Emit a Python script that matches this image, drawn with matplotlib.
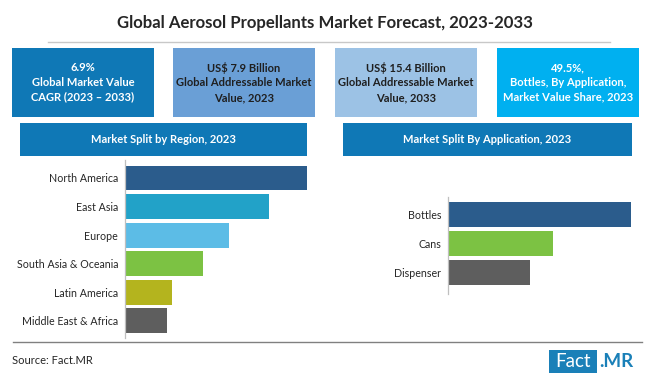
import matplotlib
matplotlib.use("Agg")
import matplotlib.pyplot as plt
from matplotlib.patches import Rectangle
from matplotlib.lines import Line2D

# ---- data ----
title = "Global Aerosol Propellants Market Forecast, 2023-2033"
kpi_texts = [
    "6.9%\nGlobal Market Value\nCAGR (2023 – 2033)",
    "US$ 7.9 Billion\nGlobal Addressable Market\nValue, 2023",
    "US$ 15.4 Billion\nGlobal Addressable Market\nValue, 2033",
    "49.5%,\nBottles, By Application,\nMarket Value Share, 2023",
]
region_labels = ["North America", "East Asia", "Europe", "South Asia & Oceania",
                 "Latin America", "Middle East & Africa"]
region_values = [30.5, 24.1, 17.4, 13.1, 7.9, 7.0]
app_labels = ["Bottles", "Cans", "Dispenser"]
app_values = [49.5, 28.4, 22.1]

# ---- styles ----
kpi_colors = ["#0f78b6", "#6a9fd6", "#9cc2e5", "#00b0f0"]
kpi_text_colors = ["white", "#1f1f1f", "#1f1f1f", "white"]
region_colors = ["#2b5c8c", "#22a2c8", "#5cbce6", "#7cc243", "#b4b41e", "#5e5e5e"]
app_colors = ["#2b5c8c", "#7cc243", "#5e5e5e"]
header_color = "#0f78b6"
FONT = "Lato"

W, H = 650, 377
fig = plt.figure(figsize=(W / 100, H / 100), dpi=100)
fig.patch.set_facecolor("white")


def fx(x):
    return x / W


def fy(y):
    return 1 - y / H


def rect(x0, y0, x1, y1, color):
    fig.add_artist(Rectangle((fx(x0), fy(y1)), fx(x1) - fx(x0), fy(y0) - fy(y1),
                             transform=fig.transFigure, facecolor=color,
                             edgecolor="none"))


def hline(x0, x1, y, color, lw=1.0):
    fig.add_artist(Line2D([fx(x0), fx(x1)], [fy(y), fy(y)], transform=fig.transFigure,
                          color=color, lw=lw))


# title
fig.text(fx(325), fy(23), title, ha="center", va="center", fontsize=12.1,
         fontweight="bold", family=FONT, color="#262626")
hline(48, 610, 42, "#c8c8c8", 1.0)

# KPI boxes
box_x = [12, 173, 335, 497]
for x0, t, c, tc in zip(box_x, kpi_texts, kpi_colors, kpi_text_colors):
    rect(x0, 48, x0 + 142, 117, c)
    fig.text(fx(x0 + 71), fy(82.5), t, ha="center", va="center", fontsize=8.0,
             fontweight="bold", family=FONT, color=tc, linespacing=1.4)

# section headers
rect(20, 123, 307, 156, header_color)
fig.text(fx(163), fy(139.5), "Market Split by Region, 2023", ha="center", va="center",
         fontsize=8.0, fontweight="bold", family=FONT, color="white")
rect(343, 123, 632, 156, header_color)
fig.text(fx(487), fy(139.5), "Market Split By Application, 2023", ha="center",
         va="center", fontsize=8.0, fontweight="bold", family=FONT, color="white")


def bar_axes(x0, x1, y0, y1, labels, values, colors, ylim):
    ax = fig.add_axes([fx(x0), fy(y1), fx(x1) - fx(x0), fy(y0) - fy(y1)])
    pos = list(range(len(labels)))
    ax.barh(pos, values, color=colors, height=0.87)
    ax.set_xlim(0, max(values))
    ax.set_ylim(*ylim)
    ax.set_yticks(pos)
    ax.set_yticklabels(labels, family=FONT, fontsize=7.7, color="#262626")
    ax.tick_params(axis="y", length=0, pad=5)
    ax.set_xticks([])
    for s in ["top", "right", "bottom"]:
        ax.spines[s].set_visible(False)
    ax.spines["left"].set_color("#bfbfbf")
    ax.spines["left"].set_linewidth(0.9)
    ax.patch.set_alpha(0)
    return ax


bar_axes(125, 307, 160, 338, region_labels, region_values, region_colors, (5.6, -0.63))
bar_axes(448, 631, 197, 294, app_labels, app_values, app_colors, (2.74, -0.6))

# bottom line
hline(13, 642, 342, "#808080", 1.0)

# source
fig.text(fx(12), fy(361), "Source: Fact.MR", ha="left", va="center", fontsize=8,
         family=FONT, color="#262626")

# logo
rect(549, 350, 597, 373, "#1a80b8")
fig.text(fx(573), fy(361.5), "Fact", ha="center", va="center", fontsize=13.5,
         family=FONT, color="white")
fig.text(fx(599), fy(361.5), ".MR", ha="left", va="center", fontsize=13.5,
         fontweight="bold", family=FONT, color="#1a80b8")

fig.savefig("out.png", dpi=100, facecolor="white")
